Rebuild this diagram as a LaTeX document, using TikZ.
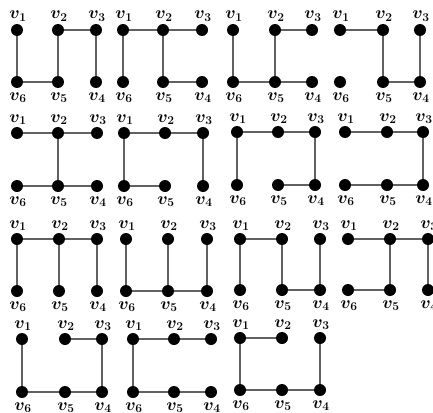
\documentclass[tikz,border=0pt]{standalone}
\usepackage{amsmath,amssymb}
\tikzset{
  vtx/.style={circle,fill=black,inner sep=0pt,minimum size=12pt},
  edg/.style={draw=black!62,line width=1.1pt},
  lbl/.style={inner sep=0pt,anchor=base,font=\fontsize{17}{17}\selectfont}
}
\newcommand\graphsix[7]{%
  \node[vtx] (#1v1) at (#2,#5) {};
  \node[vtx] (#1v2) at (#3,#5) {};
  \node[vtx] (#1v3) at (#4,#5) {};
  \node[vtx] (#1v6) at (#2,#6) {};
  \node[vtx] (#1v5) at (#3,#6) {};
  \node[vtx] (#1v4) at (#4,#6) {};
  \node[lbl] (#1l1) at (#2+1,#5-11) {$\boldsymbol{v_1}$};
  \node[lbl] (#1l2) at (#3+1,#5-11) {$\boldsymbol{v_2}$};
  \node[lbl] (#1l3) at (#4+1,#5-11) {$\boldsymbol{v_3}$};
  \node[lbl] (#1l6) at (#2+1,#6+18) {$\boldsymbol{v_6}$};
  \node[lbl] (#1l5) at (#3+1,#6+18) {$\boldsymbol{v_5}$};
  \node[lbl] (#1l4) at (#4+1,#6+18) {$\boldsymbol{v_4}$};
  \foreach \a/\b in {#7} \draw[edg] (#1v\a) -- (#1v\b);
}
\begin{document}
\begin{tikzpicture}[x=1pt,y=-1pt]
\useasboundingbox (0,0) rectangle (433,412);
% row 1
\graphsix{a}{17}{58}{96}{30}{82}{1/6,6/5,5/2,2/3,3/4}
\graphsix{b}{123}{163}{202}{30}{82}{1/2,2/3,1/6,2/5,5/4}
\graphsix{c}{233}{275}{312}{30}{82}{1/6,6/5,5/4,5/2,2/3}
\graphsix{d}{340}{383}{420}{30}{82}{1/2,2/5,5/4,4/3}
% row 2
\graphsix{e}{17}{58}{97}{133}{186}{1/2,2/3,2/5,6/5,5/4}
\graphsix{f}{124}{165}{203}{133}{186}{1/2,2/3,1/6,6/5,3/4}
\graphsix{g}{237}{278}{315}{132}{185}{1/2,2/3,1/6,3/4,5/4}
\graphsix{h}{345}{387}{423}{132}{185}{1/2,2/3,3/4,4/5,5/6}
% row 3
\graphsix{i}{17}{59}{97}{239}{291}{1/2,2/3,1/6,2/5,3/4}
\graphsix{j}{126}{168}{207}{239}{291}{1/6,6/5,5/4,2/5,3/4}
\graphsix{k}{240}{282}{320}{239}{290}{1/2,1/6,2/5,5/4,3/4}
\graphsix{l}{348}{390}{428}{239}{290}{1/2,2/3,2/5,5/6,3/4}
% row 4
\graphsix{m}{22}{65}{102}{339}{392}{1/6,6/5,5/4,4/3,3/2}
\graphsix{n}{133}{174}{211}{339}{392}{1/2,2/3,1/6,6/5,5/4}
\graphsix{o}{240}{282}{320}{338}{390}{1/2,1/6,6/5,5/4,4/3}
\end{tikzpicture}
\end{document}
